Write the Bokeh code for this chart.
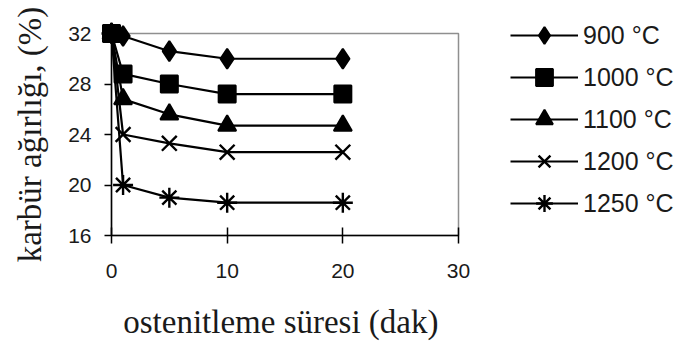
from bokeh.plotting import figure
from bokeh.models import Range1d, FixedTicker, Legend, LegendItem
from bokeh.layouts import row
from bokeh.embed import file_html
from bokeh.resources import INLINE

# Data
time_min = [0, 1, 5, 10, 20]
series_labels = ["900 °C", "1000 °C", "1100 °C", "1200 °C", "1250 °C"]
c900 = [32.0, 31.8, 30.6, 30.0, 30.0]
c1000 = [32.0, 28.8, 28.0, 27.2, 27.2]
c1100 = [32.0, 26.8, 25.6, 24.7, 24.7]
c1200 = [32.0, 24.0, 23.3, 22.6, 22.6]
c1250 = [32.0, 20.0, 19.0, 18.6, 18.6]
x_ticks = [0, 10, 20, 30]
y_ticks = [16, 20, 24, 28, 32]

series = [c900, c1000, c1100, c1200, c1250]
markers = ["diamond", "square", "triangle", "x", "asterisk"]
sizes = [20, 17, 18, 21, 20]
mlw = [2.0, 2.0, 2.0, 2.4, 2.4]

p = figure(width=473, height=344, output_backend="svg", toolbar_location=None,
           x_range=Range1d(0, 30), y_range=Range1d(16, 32),
           min_border_left=111, min_border_right=15, min_border_top=33, min_border_bottom=109)
p.background_fill_color = "white"
p.border_fill_color = "white"
p.grid.visible = False
p.outline_line_color = "#8f8f8f"
p.outline_line_width = 1.5

p.xaxis.ticker = FixedTicker(ticks=x_ticks)
p.yaxis.ticker = FixedTicker(ticks=y_ticks)
for ax in (p.xaxis[0], p.yaxis[0]):
    ax.axis_line_color = "black"
    ax.axis_line_width = 1.5
    ax.major_tick_line_color = "black"
    ax.major_tick_line_width = 1.5
    ax.minor_tick_line_color = None
    ax.major_label_text_font = "Liberation Sans"
    ax.major_label_text_font_size = "21px"
    ax.major_label_text_color = "#1a1a1a"
    ax.axis_label_text_font = "Liberation Serif"
    ax.axis_label_text_font_style = "normal"
    ax.axis_label_text_font_size = "33px"
    ax.axis_label_text_color = "#1a1a1a"

p.xaxis.major_tick_in = 8
p.xaxis.major_tick_out = 8
p.xaxis.major_label_standoff = 20
p.xaxis.axis_label = "ostenitleme süresi  (dak)"
p.xaxis.axis_label_standoff = 23

p.yaxis.major_tick_in = 0
p.yaxis.major_tick_out = 7
p.yaxis.major_label_standoff = 13
p.yaxis.axis_label = "karbür ağırlığı, (%)"
p.yaxis.axis_label_standoff = 17

# legend panel as a separate, axis-free figure
lg = figure(width=208, height=344, output_backend="svg", toolbar_location=None,
            x_range=Range1d(0, 30), y_range=Range1d(16, 32),
            x_axis_location=None, y_axis_location=None,
            min_border_left=0, min_border_right=0, min_border_top=0, min_border_bottom=0)
lg.grid.visible = False
lg.outline_line_color = None
lg.background_fill_color = "white"
lg.border_fill_color = "white"

items = []
for lab, ys, m, s, lw in zip(series_labels, series, markers, sizes, mlw):
    p.line(time_min, ys, line_color="black", line_width=2.2, level="overlay")
    p.scatter(time_min, ys, marker=m, size=s, fill_color="black",
              line_color="black", line_width=lw, level="overlay")
    ln = lg.line(time_min, ys, line_color="black", line_width=2.2, visible=False)
    sc = lg.scatter(time_min, ys, marker=m, size=s, fill_color="black",
                    line_color="black", line_width=lw, visible=False)
    items.append(LegendItem(label=lab, renderers=[ln, sc]))

legend = Legend(items=items, location=(37, 11), orientation="vertical",
                glyph_width=68, glyph_height=42, label_height=42, label_standoff=5,
                spacing=0, padding=0, margin=0, border_line_color=None,
                background_fill_alpha=0,
                label_text_font="Liberation Sans", label_text_font_size="25px",
                label_text_color="#1a1a1a")
lg.add_layout(legend, "left")

layout = row(p, lg, spacing=0)
open("out.html", "w").write(file_html(layout, INLINE))
